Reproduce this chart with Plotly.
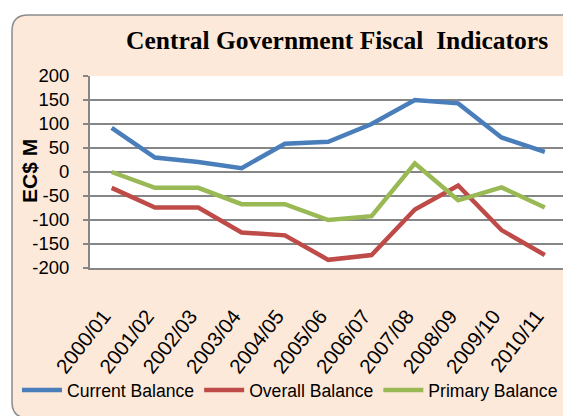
import plotly.graph_objects as go

years = ["2000/01", "2001/02", "2002/03", "2003/04", "2004/05", "2005/06",
         "2006/07", "2007/08", "2008/09", "2009/10", "2010/11"]
current_balance = [92, 30, 21, 8, 59, 63, 100, 150, 143, 72, 42]
overall_balance = [-33, -74, -74, -126, -132, -183, -173, -78, -28, -121, -173]
primary_balance = [0, -33, -33, -67, -67, -100, -92, 18, -59, -32, -74]

y_tick_values = [200, 150, 100, 50, 0, -50, -100, -150, -200]
y_tick_labels = ["200", "150", "100", "50", "0", "-50", "-100", "-150", "-200"]

series_names = ["Current Balance", "Overall Balance", "Primary Balance"]
series_colors = ["#4A7EBB", "#BE4B48", "#98B954"]
series_values = [current_balance, overall_balance, primary_balance]

W, H = 563, 416
L, R, T, B = 90, 0, 76, 148
PW, PH = W - L - R, H - T - B


def px(x):
    return (x - L) / PW


def py(y):
    return (H - B - y) / PH


fig = go.Figure()
for name, color, vals in zip(series_names, series_colors, series_values):
    fig.add_trace(go.Scatter(x=years, y=vals, name=name, mode="lines",
                             line=dict(color=color, width=4.5)))

# rounded outer frame
x0, y0, x1, y1, r = 12, 15, 585, 418, 16
path = (f"M {px(x0+r)},{py(y0)} L {px(x1-r)},{py(y0)} "
        f"Q {px(x1)},{py(y0)} {px(x1)},{py(y0+r)} L {px(x1)},{py(y1-r)} "
        f"Q {px(x1)},{py(y1)} {px(x1-r)},{py(y1)} L {px(x0+r)},{py(y1)} "
        f"Q {px(x0)},{py(y1)} {px(x0)},{py(y1-r)} L {px(x0)},{py(y0+r)} "
        f"Q {px(x0)},{py(y0)} {px(x0+r)},{py(y0)} Z")
fig.add_shape(type="path", path=path, xref="paper", yref="paper",
              fillcolor="#FDE9D9", line=dict(color="#8C8C8C", width=1.5),
              layer="below")
fig.add_shape(type="rect", x0=0, x1=1, y0=0, y1=1, xref="paper", yref="paper",
              fillcolor="white", line=dict(width=0), layer="below")

fig.add_annotation(text="Central Government Fiscal&nbsp; Indicators",
                   xref="paper", yref="paper", x=px(337), y=py(41),
                   xanchor="center", yanchor="middle", showarrow=False,
                   font=dict(family="Liberation Serif", size=25.5, color="black",
                             weight="bold"))
fig.add_annotation(text="EC$ M", xref="paper", yref="paper", x=px(29), y=py(171),
                   xanchor="center", yanchor="middle", textangle=-90,
                   showarrow=False,
                   font=dict(family="Liberation Sans", size=21, color="black",
                             weight="bold"))

fig.update_layout(
    width=W, height=H,
    margin=dict(l=L, r=R, t=T, b=B, autoexpand=False),
    paper_bgcolor="white", plot_bgcolor="white",
    showlegend=True,
    legend=dict(orientation="h", x=px(17), y=py(390), xanchor="left",
                yanchor="middle", font=dict(family="Liberation Sans", size=17.6,
                                            color="black"),
                itemwidth=40, bgcolor="rgba(0,0,0,0)", traceorder="normal"),
    xaxis=dict(type="category", categoryorder="array", categoryarray=years,
               range=[-0.5, 10.42], showline=True, linecolor="#868686",
               linewidth=2, showgrid=False, ticks="", tickangle=-52,
               ticklabelstandoff=26, ticklabelshift=-8,
               tickfont=dict(family="Liberation Sans", size=20.5, color="black")),
    yaxis=dict(range=[-200, 200], tickvals=y_tick_values, ticktext=y_tick_labels,
               showline=True,
               linecolor="#868686", linewidth=2, gridcolor="#868686",
               gridwidth=1.5, zeroline=False, ticks="outside", ticklen=5,
               tickcolor="#868686", tickwidth=1.5, ticklabelstandoff=10,
               tickfont=dict(family="Liberation Sans", size=18.5, color="black")),
)

fig.write_html("out.html", config={"displayModeBar": False},
               post_script="document.body.style.margin='0';"
                           "document.body.style.overflow='hidden';")
